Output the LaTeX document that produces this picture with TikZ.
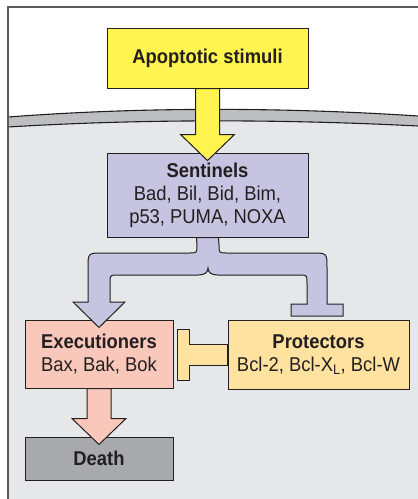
\documentclass[tikz,border=0pt]{standalone}
\usepackage{fontspec}
\setmainfont{Liberation Sans}[FakeStretch=0.92]
\usetikzlibrary{calc}
\definecolor{ink}{HTML}{231F20}
\definecolor{framegray}{HTML}{58595B}
\definecolor{cellfill}{HTML}{E6E7E8}
\definecolor{membranefill}{HTML}{BCBEC0}
\definecolor{stimfill}{HTML}{FFF450}
\definecolor{sentfill}{HTML}{C7C4E2}
\definecolor{execfill}{HTML}{F9C8BA}
\definecolor{protfill}{HTML}{FFE29F}
\definecolor{deathfill}{HTML}{A7A9AC}
\tikzset{
  font=\fontsize{20}{23}\selectfont,
  box/.style={draw=ink, line width=1pt, text=ink, align=center,
    inner sep=2pt},
  fat/.style={draw=ink, line width=1pt, line join=miter},
  membrane/.style={draw=ink, line width=1.1pt},
  cellframe/.style={draw=framegray, line width=1.5pt}
}
\newcommand{\BlockArrow}[3]{%
  \path[fat, fill=#1] ($(#2)+(-12,0)$)
    -- ($(#2 |- #3)+(-12,-18)$) -- ($(#2 |- #3)+(-27,-18)$)
    -- ($(#2 |- #3)+(0,8)$)
    -- ($(#2 |- #3)+(27,-18)$) -- ($(#2 |- #3)+(12,-18)$)
    -- ($(#2)+(12,0)$) -- cycle;
}
\begin{document}
\begin{tikzpicture}[x=1pt,y=-1pt]
  \useasboundingbox (0,0) rectangle (418,499);
  \begin{scope}
    \clip (0,0) rectangle (418,499);
    % outside and inside of the cell
    \fill[white] (8,7) rectangle (430,510);
    \fill[cellfill] (8,127) .. controls (140,119) and (280,119) .. (418,126)
      -- (418,510) -- (8,510) -- cycle;
    % membrane
    \fill[membranefill] (8,117) .. controls (140,107) and (280,107) .. (418,116)
      -- (418,126) .. controls (280,119) and (140,119) .. (8,127) -- cycle;
    \draw[membrane] (8,117) .. controls (140,107) and (280,107) .. (418,116);
    \draw[membrane] (8,127) .. controls (140,119) and (280,119) .. (418,126);
    \draw[cellframe] (8,510) -- (8,7) -- (430,7);
  \end{scope}

  % ------------------------------------------------------------------
  % 1. Stimuli and sentinels
  \node[box, fill=stimfill, minimum width=201pt, minimum height=60pt]
    (stimuli) at (207.5,58) {\textbf{Apoptotic stimuli}};
  \node[box, fill=sentfill, minimum width=201pt, minimum height=84pt]
    (sentinels) at (207.5,195)
    {\textbf{Sentinels}\\Bad, Bil, Bid, Bim,\\p53, PUMA, NOXA};

  % ------------------------------------------------------------------
  % 2. Executioners, protectors, death
  \node[box, fill=execfill, minimum width=148pt, minimum height=68pt]
    (exec) at (99,354) {\textbf{Executioners}\\Bax, Bak, Bok};
  \node[box, fill=protfill, minimum width=181pt, minimum height=69pt]
    (prot) at (318.5,354.5) {\textbf{Protectors}\\Bcl-2, Bcl-X\textsubscript{L}, Bcl-W};
  \node[box, fill=deathfill, minimum width=148pt, minimum height=43pt]
    (death) at (99,458.5) {\textbf{Death}};

  % ------------------------------------------------------------------
  % 3. Block arrows
  \BlockArrow{stimfill}{stimuli.south}{sentinels.north}
  \BlockArrow{execfill}{exec.south}{death.north}

  % sentinels: activate executioners, block protectors
  \path[fat, fill=sentfill]
    ($(sentinels.south)+(-11,0)$) -- (197,245) .. controls (197,253) .. (189,253)
    -- (103,253) .. controls (88,253) .. (88,268) -- (88,302)
    -- (73,302) -- ($(exec.north)+(0,8)$) -- (125,302) -- (110,302)
    -- (110,283) .. controls (110,275) .. (118,275)
    -- (198,275) .. controls (204,275) and (208,273) .. (208,268)
    .. controls (208,273) and (212,275) .. (218,275)
    -- (299,275) .. controls (307,275) .. (307,283) -- (307,304)
    -- (291,304) -- (291,316) -- (343,316) -- (343,304) -- (327,304)
    -- (327,268) .. controls (327,253) .. (312,253)
    -- (227,253) .. controls (219,253) .. (219,245)
    -- ($(sentinels.south)+(11,0)$) -- cycle;

  % protectors block executioners
  \path[fat, fill=protfill] ($(prot.west)+(0,-10.5)$) -- ++(-38,0) -- ++(0,-15)
    -- ++(-12,0) -- ++(0,51) -- ++(12,0) -- ++(0,-15) -- ++(38,0) -- cycle;
\end{tikzpicture}
\end{document}
